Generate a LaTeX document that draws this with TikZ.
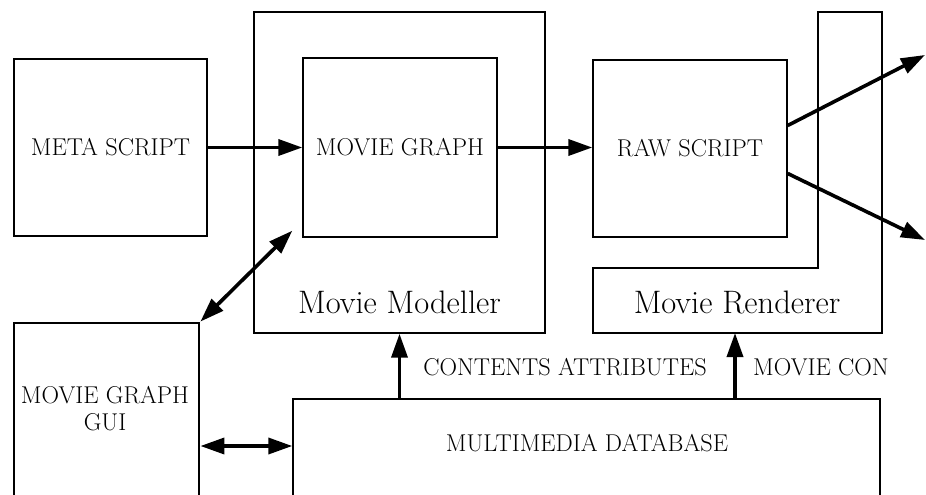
\documentclass[tikz,border=0pt]{standalone}
\usetikzlibrary{arrows.meta,calc}
\begin{document}
\begin{tikzpicture}[x=1pt,y=-1pt,
  frame/.style={draw,line width=1.4pt,rectangle,inner sep=0pt},
  boldframe/.style={draw,line width=2.8pt,rectangle,inner sep=0pt},
  caps/.style={font=\fontsize{24.3}{27}\selectfont,inner sep=0pt},
  title/.style={font=\fontsize{32.5}{36}\selectfont,inner sep=0pt},
  flow/.style={line width=3.6pt,-{Triangle[length=24pt,width=16pt]}},
  twoway/.style={line width=3.6pt,{Triangle[length=24pt,width=16pt]}-{Triangle[length=24pt,width=16pt]}}]
\useasboundingbox (0,0) rectangle (926,495);
\clip (0,0) rectangle (926,495);

% Movie Modeller frame and its graph
\node[frame,minimum width=291pt,minimum height=321pt] (modeller) at (399.5,172.5) {};
\node[frame,minimum width=194pt,minimum height=179pt,caps] (mgraph) at (400,147.5) {MOVIE GRAPH};
\node[title] (modlabel) at (399.5,302) {Movie Modeller};

% Meta script
\node[frame,minimum width=193pt,minimum height=177pt,caps] (meta) at (110.5,147.5) {META SCRIPT};

% Raw script
\node[frame,minimum width=194pt,minimum height=177pt,caps] (raw) at (690,148.5) {RAW SCRIPT};

% Movie Renderer: L-shaped outline
\coordinate (r1) at (593,268);
\coordinate (r2) at (818,268);
\coordinate (r3) at (818,12);
\coordinate (r4) at (882,12);
\coordinate (r5) at (882,333);
\coordinate (r6) at (593,333);
\draw[line width=1.4pt] (r1) -- (r2) -- (r3) -- (r4) -- (r5) -- (r6) -- cycle;
\node[title] (renlabel) at (737,302) {Movie Renderer};
\coordinate (renbot) at (735,333);

% GUI and database (cut off at the bottom)
\node[boldframe,minimum width=185pt,minimum height=200pt] (gui) at (106.5,423) {};
\node[caps,align=center] (guitext) at (105,409) {MOVIE GRAPH\\GUI};
\node[frame,minimum width=587pt,minimum height=120pt] (db) at (586.5,459) {};
\node[caps] (dbtext) at (587,443) {MULTIMEDIA DATABASE};

% labels on the upward flows
\node[caps] (attr) at (565,367) {CONTENTS ATTRIBUTES};
\node[caps,anchor=west] (moviecon) at (753,367) {MOVIE CON};

% outputs
\coordinate (out1) at (925,55);
\coordinate (out2) at (925,240);

% connectors
\draw[flow] (meta.east) -- (meta.east -| mgraph.west);
\draw[flow] (mgraph.east) -- (mgraph.east -| raw.west);
\draw[flow] ($(raw.east)+(0,-23)$) -- (out1);
\draw[flow] ($(raw.east)+(0,25)$) -- (out2);
\draw[twoway] (gui.north east) -- ($(mgraph.south west)+(-10,-7)$);
\draw[twoway] (gui.east |- 0,446) -- (db.west |- 0,446);
\draw[flow] (db.north -| modeller.south) -- (modeller.south);
\draw[flow] (db.north -| renbot) -- (renbot);
\end{tikzpicture}
\end{document}
